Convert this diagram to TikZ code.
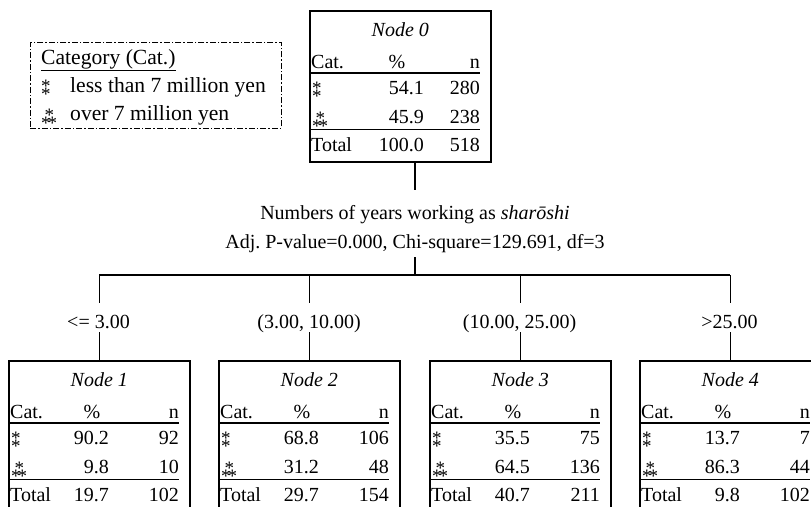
\documentclass[tikz,border=0pt]{standalone}
\usepackage{fontspec}
\setmainfont{Liberation Serif}
\usetikzlibrary{calc}
\newcommand\astg{{\fontsize{19}{19}\selectfont *}}
\newcommand\symone{\rlap{\raisebox{0pt}{\astg}}\raisebox{-8pt}{\astg}}
\newcommand\symtwo{\rlap{\hspace{3.3pt}\raisebox{-1pt}{\astg}}\raisebox{-9pt}{\astg\kern-3pt\astg}}
\tikzset{
  txt/.style={font=\fontsize{20}{24}\selectfont, inner sep=0pt, anchor=base},
  legtxt/.style={font=\fontsize{21.6}{26}\selectfont, inner sep=0pt, anchor=base west},
  treebox/.style={draw, line width=1.6pt, minimum width=181pt, minimum height=151pt, inner sep=0pt, anchor=north west},
  conn/.style={line width=1.6pt},
  rule/.style={line width=1.1pt},
  legbox/.style={draw, line width=0.9pt, dash pattern=on 6pt off 2pt on 1.5pt off 2pt, minimum width=251pt, minimum height=86pt, inner sep=0pt, anchor=north west}
}
\begin{document}
\frenchspacing
\begin{tikzpicture}[x=1pt,y=-1pt]
\useasboundingbox (0,0) rectangle (811,506);

% legend
\node[legbox] (legend) at (30,42) {};
\node[legtxt] (legA) at (41,64.5) {\underline{Category (Cat.)}};
\node[legtxt] (legB1) at (41,92.5) {\symone};
\node[legtxt] (legB2) at (70,92.5) {less than 7 million yen};
\node[legtxt] (legC1) at (41,120) {\symtwo};
\node[legtxt] (legC2) at (70,120) {over 7 million yen};

% tree boxes
\foreach \nm/\L/\T/\ti/\pa/\na/\pb/\nb/\pt/\nt/\vr/\pc in {
  n0/309/10/Node 0/54.1/280/45.9/238/100.0/518/115/88,
  n1/8/360/Node 1/90.2/92/9.8/10/19.7/102/101/84,
  n2/218/360/Node 2/68.8/106/31.2/48/29.7/154/101/84,
  n3/429/360/Node 3/35.5/75/64.5/136/40.7/211/101/84,
  n4/639/360/Node 4/13.7/7/86.3/44/9.8/102/101/84}{
  \node[treebox] (\nm) at (\L,\T) {};
  \node[txt] (\nm-title) at ($(\nm.north)+(0,26.5)$) {\itshape \ti};
  \node[txt, anchor=base west] (\nm-cat) at ({\L+2},{\T+58}) {Cat.};
  \node[txt] (\nm-pc) at ({\L+\pc},{\T+58}) {\%};
  \node[txt, anchor=base east] (\nm-n) at ({\L+171},{\T+58}) {n};
  \draw[rule] ({\L+2},{\T+63}) -- ({\L+171},{\T+63});
  \node[txt, anchor=base west] (\nm-s1) at ({\L+3},{\T+84.5}) {\symone};
  \node[txt, anchor=base east] (\nm-p1) at ({\L+\vr},{\T+84.5}) {\pa};
  \node[txt, anchor=base east] (\nm-c1) at ({\L+171},{\T+84.5}) {\na};
  \node[txt, anchor=base west] (\nm-s2) at ({\L+3},{\T+113.5}) {\symtwo};
  \node[txt, anchor=base east] (\nm-p2) at ({\L+\vr},{\T+113.5}) {\pb};
  \node[txt, anchor=base east] (\nm-c2) at ({\L+171},{\T+113.5}) {\nb};
  \draw[rule] ({\L+2},{\T+119.5}) -- ({\L+171},{\T+119.5});
  \node[txt, anchor=base west] (\nm-tl) at ({\L+2},{\T+141.5}) {Total};
  \node[txt, anchor=base east] (\nm-pt) at ({\L+\vr},{\T+141.5}) {\pt};
  \node[txt, anchor=base east] (\nm-ct) at ({\L+171},{\T+141.5}) {\nt};
}

% split text
\node[txt] (split1) at (415,219.5) {Numbers of years working as \textit{sharōshi}};
\node[txt] (split2) at (415,248.5) {Adj. P-value=0.000, Chi-square=129.691, df=3};
\coordinate (c0) at (415,190);
\coordinate (c1) at (415,257);
\coordinate (hub) at (415,275);

\draw[conn] (n0.south -| split1) -- (c0);
\draw[conn] (c1) -- (hub);
\draw[conn] (n1.north |- hub) -- (n4.north |- hub);

% branch labels
\node[txt] (l1) at (98.5,328.6) {<= 3.00};
\node[txt] (l2) at (309,328.6) {(3.00, 10.00)};
\node[txt] (l3) at (519.5,328.6) {(10.00, 25.00)};
\node[txt] (l4) at (729.5,328.6) {>25.00};

\foreach \k in {1,2,3,4}{
  \draw[conn] (n\k.north |- hub) -- ++(0,28);
  \draw[conn] (n\k.north) -- ++(0,-28);
}
\end{tikzpicture}
\end{document}
